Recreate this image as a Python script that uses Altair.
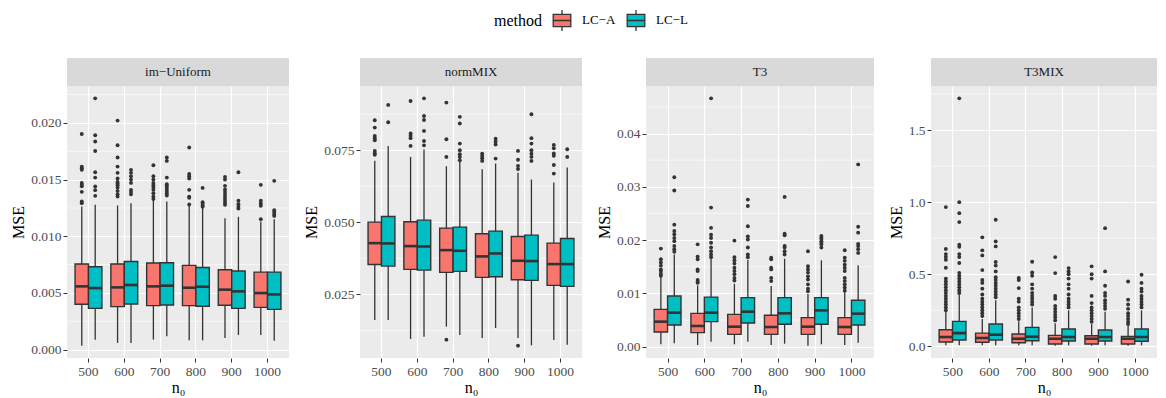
import altair as alt
import pandas as pd

N0 = ["500", "600", "700", "800", "900", "1000"]
METHODS = ["LC−A", "LC−L"]
COLORS = ["#F8766D", "#00BFC4"]
PANELS = ["im−Uniform", "normMIX", "T3", "T3MIX"]

# box order: 500A, 500L, 600A, 600L, ..., 1000A, 1000L
iu_lower = [0.00035, 0.00088, 0.00059, 0.00059, 0.00088, 0.00117, 0.00082, 0.00082, 0.00103, 0.00129, 0.00129, 0.00079]
iu_q1 = [0.0040, 0.00364, 0.00379, 0.00402, 0.00388, 0.00394, 0.00388, 0.00382, 0.00391, 0.00364, 0.00373, 0.00355]
iu_med = [0.00558, 0.00543, 0.00549, 0.0057, 0.00558, 0.00564, 0.00546, 0.00555, 0.00529, 0.00514, 0.00499, 0.00487]
iu_q3 = [0.00755, 0.00731, 0.00755, 0.00778, 0.00764, 0.00767, 0.00743, 0.00725, 0.00705, 0.00693, 0.00684, 0.00684]
iu_upper = [0.01263, 0.01278, 0.01272, 0.01292, 0.01322, 0.01307, 0.01278, 0.01248, 0.0116, 0.01172, 0.0113, 0.0115]
iu_out = [
    [0.01903, 0.01615, 0.01601, 0.01586, 0.01471, 0.01454, 0.01442, 0.01392, 0.01307, 0.01292],
    [0.02217, 0.01891, 0.01836, 0.01753, 0.01565, 0.01518, 0.01439, 0.01407, 0.01357],
    [0.02021, 0.01803, 0.01695, 0.01615, 0.0156, 0.0151, 0.0148, 0.01465, 0.0145, 0.0143, 0.014, 0.0137, 0.0135],
    [0.01586, 0.0156, 0.0153, 0.015, 0.01471, 0.0141, 0.0139, 0.0137],
    [0.01627, 0.0153, 0.015, 0.0147, 0.0145, 0.0143, 0.0141, 0.0138, 0.0135, 0.0133],
    [0.01695, 0.01665, 0.01518, 0.0146, 0.0144, 0.0142, 0.014, 0.0138, 0.0136],
    [0.01783, 0.0155, 0.0153, 0.0151, 0.0141, 0.0135, 0.0134, 0.0128],
    [0.01427, 0.013, 0.01285, 0.0127, 0.0126],
    [0.01524, 0.015, 0.01445, 0.01413, 0.0139, 0.01366, 0.01342, 0.0132, 0.01298, 0.01278],
    [0.01565, 0.01313, 0.01283, 0.0126, 0.01245],
    [0.01454, 0.01313, 0.0129, 0.01269, 0.01151],
    [0.01489, 0.0123, 0.0121, 0.0119, 0.0118],
]

nm_lower = [0.01611, 0.0161, 0.00952, 0.01033, 0.0138, 0.01091, 0.00987, 0.01334, 0.0099, 0.00733, 0.00918, 0.00756]
nm_q1 = [0.03539, 0.03482, 0.03366, 0.03343, 0.03262, 0.03297, 0.03089, 0.03112, 0.03008, 0.02985, 0.02812, 0.02777]
nm_med = [0.04278, 0.04267, 0.04175, 0.04163, 0.04036, 0.04013, 0.03817, 0.0392, 0.03666, 0.03655, 0.03551, 0.03551]
nm_q3 = [0.05006, 0.05203, 0.05018, 0.05076, 0.04798, 0.04833, 0.04602, 0.04695, 0.0451, 0.04556, 0.04279, 0.0444]
nm_upper = [0.07132, 0.0765, 0.0727, 0.07525, 0.06947, 0.07305, 0.06843, 0.0704, 0.06716, 0.06485, 0.06381, 0.069]
nm_out = [
    [0.08541, 0.08287, 0.07998, 0.0792, 0.07848, 0.0748, 0.074, 0.0734],
    [0.09073, 0.08471],
    [0.0921, 0.0808, 0.08, 0.0792, 0.0765],
    [0.093, 0.0869, 0.0855, 0.0817, 0.0782, 0.0767],
    [0.09154, 0.0788, 0.0727, 0.0093],
    [0.0866, 0.0843, 0.0773, 0.075, 0.0736, 0.0727, 0.0715],
    [0.07385, 0.073, 0.0722, 0.0713],
    [0.079, 0.078, 0.077, 0.0721],
    [0.07478, 0.0717, 0.0696, 0.0685, 0.00722],
    [0.08749, 0.0792, 0.0773, 0.075, 0.0738, 0.0727, 0.0713],
    [0.07686, 0.0757, 0.0739, 0.0731, 0.0699, 0.0669],
    [0.07536, 0.0727],
]

t3_lower = [0.00044, 0.00063, 0.0003, 0.00094, 0.00044, 0.00094, 0.0003, 0.00056, 0.00019, 0.00044, 0.0003, 0.00075]
t3_q1 = [0.00275, 0.00406, 0.00263, 0.00469, 0.00231, 0.00444, 0.00231, 0.00419, 0.00231, 0.00419, 0.00231, 0.00406]
t3_med = [0.00469, 0.00638, 0.00388, 0.00638, 0.00375, 0.00656, 0.00369, 0.00625, 0.00375, 0.00681, 0.00369, 0.00619]
t3_q3 = [0.0070, 0.0095, 0.00625, 0.0093, 0.00606, 0.0092, 0.00588, 0.0092, 0.00544, 0.0092, 0.00544, 0.0087]
t3_upper = [0.0131, 0.0173, 0.0115, 0.0165, 0.0118, 0.0163, 0.0114, 0.0165, 0.0099, 0.0162, 0.0102, 0.0153]
t3_out = [
    [0.0184, 0.0164, 0.0158, 0.0152, 0.0145, 0.0142, 0.0137, 0.0133],
    [0.0318, 0.0293, 0.0229, 0.0217, 0.0211, 0.0204, 0.0198, 0.0189, 0.0183, 0.0178],
    [0.0192, 0.0169, 0.0164, 0.0145, 0.0142, 0.0125, 0.0122, 0.012],
    [0.0466, 0.0261, 0.0223, 0.021, 0.0204, 0.0195, 0.0186, 0.0179, 0.0173, 0.0168],
    [0.0199, 0.0168, 0.0162, 0.0156, 0.0148, 0.0142, 0.0136, 0.0129, 0.0124],
    [0.0276, 0.0264, 0.0226, 0.0207, 0.0201, 0.0186, 0.0173, 0.0168],
    [0.0167, 0.0164, 0.0148, 0.0145, 0.0129, 0.0123],
    [0.0281, 0.0212, 0.0209, 0.0189, 0.0186, 0.0179, 0.0173],
    [0.0179, 0.0151, 0.0145, 0.0139, 0.0132, 0.0126, 0.0117, 0.0109, 0.0104],
    [0.0208, 0.0205, 0.0202, 0.0198, 0.0195, 0.0192, 0.0186],
    [0.0181, 0.0167, 0.0161, 0.0154, 0.0148, 0.0142, 0.0129, 0.0123, 0.0117, 0.0111, 0.0105],
    [0.0342, 0.0225, 0.0214, 0.0193, 0.0189, 0.0183, 0.0176],
]

tm_lower = [0.007, 0.007, 0.007, 0.007, 0.007, 0.007, 0.005, 0.007, 0.005, 0.007, 0.005, 0.007]
tm_q1 = [0.030, 0.044, 0.028, 0.044, 0.025, 0.039, 0.016, 0.037, 0.016, 0.037, 0.016, 0.035]
tm_med = [0.0647, 0.092, 0.058, 0.081, 0.053, 0.067, 0.053, 0.065, 0.053, 0.065, 0.053, 0.065]
tm_q3 = [0.1156, 0.173, 0.092, 0.155, 0.0855, 0.132, 0.076, 0.12, 0.074, 0.113, 0.069, 0.12]
tm_upper = [0.24, 0.36, 0.19, 0.32, 0.175, 0.27, 0.16, 0.25, 0.155, 0.24, 0.145, 0.25]
tm_out = [
    [0.966, 0.675, 0.64, 0.62, 0.60, 0.545, 0.47, 0.45, 0.43, 0.41, 0.39, 0.37, 0.35, 0.33, 0.31, 0.29, 0.27, 0.25],
    [1.72, 1.0, 0.924, 0.862, 0.705, 0.69, 0.64, 0.62, 0.578, 0.51, 0.49, 0.47, 0.45, 0.43, 0.41, 0.39, 0.37],
    [0.756, 0.666, 0.631, 0.529, 0.46, 0.44, 0.40, 0.36, 0.33, 0.31, 0.29, 0.27, 0.25, 0.23, 0.21],
    [0.878, 0.728, 0.693, 0.585, 0.56, 0.52, 0.48, 0.46, 0.44, 0.42, 0.40, 0.38, 0.36, 0.34],
    [0.474, 0.46, 0.404, 0.33, 0.31, 0.27, 0.25, 0.23, 0.21, 0.19],
    [0.587, 0.513, 0.49, 0.43, 0.40, 0.37, 0.35, 0.33, 0.31, 0.29],
    [0.619, 0.508, 0.35, 0.33, 0.28, 0.26, 0.24, 0.22, 0.20, 0.18],
    [0.543, 0.52, 0.50, 0.47, 0.43, 0.40, 0.36, 0.33, 0.31, 0.29, 0.27],
    [0.555, 0.50, 0.47, 0.35, 0.30, 0.27, 0.25, 0.23, 0.21, 0.19, 0.17],
    [0.82, 0.52, 0.42, 0.37, 0.35, 0.32, 0.30, 0.28, 0.26],
    [0.45, 0.324, 0.29, 0.26, 0.23, 0.21, 0.19, 0.17, 0.155],
    [0.497, 0.44, 0.40, 0.38, 0.35, 0.33, 0.31, 0.29, 0.27],
]

# y-axis breaks per panel
iu_ticks = [0.0, 0.005, 0.010, 0.015, 0.020]
iu_minor = [0.0025, 0.0075, 0.0125, 0.0175, 0.0225]
nm_ticks = [0.025, 0.050, 0.075]
nm_minor = [0.0125, 0.0375, 0.0625, 0.0875]
t3_ticks = [0.0, 0.01, 0.02, 0.03, 0.04]
t3_minor = [0.005, 0.015, 0.025, 0.035, 0.045]
tm_ticks = [0.0, 0.5, 1.0, 1.5]
tm_minor = [0.25, 0.75, 1.25, 1.75]

FONT = "Liberation Serif"
PLOT_H = 272
STRIP_H = 28
KEY_PATH = ("M-0.8,-0.55H0.8V0.55H-0.8Z"
            "M-0.8,0H0.8"
            "M0,-0.55V-0.95M0,0.55V0.95")


def panel(title, lower, q1, med, q3, upper, outl, ticks, minor, fmt, width, show_legend):
    boxes = pd.DataFrame({
        "n0": [n for n in N0 for _ in METHODS],
        "method": [m for _ in N0 for m in METHODS],
        "lower": lower, "q1": q1, "med": med, "q3": q3, "upper": upper,
    })
    out_rows = []
    for i, vals in enumerate(outl):
        for v in vals:
            out_rows.append({"n0": N0[i // 2], "method": METHODS[i % 2], "value": v})
    outs = pd.DataFrame(out_rows)
    allv = list(lower) + list(upper) + [r["value"] for r in out_rows]
    lo, hi = min(allv), max(allv)
    rng = hi - lo
    dom = [lo - 0.05 * rng, hi + 0.05 * rng]
    ysc = alt.Scale(domain=dom, nice=False, zero=False)
    yax = alt.Axis(values=ticks, format=fmt, title="MSE")
    xsc = alt.Scale(domain=N0, paddingInner=0, paddingOuter=0.1)
    xax = alt.Axis(title="n₀", labelAngle=0, bandPosition=0.5)
    x = alt.X("n0:N", scale=xsc, axis=xax)
    xo = alt.XOffset("method:N", scale=alt.Scale(domain=METHODS, paddingInner=0, paddingOuter=1 / 3))
    bw = width / 6.2 * 0.375

    minor_df = pd.DataFrame({"v": minor})
    minor_layer = alt.Chart(minor_df).mark_rule(color="white", strokeWidth=0.6).encode(
        y=alt.Y("v:Q", scale=ysc, axis=yax))
    whisk = alt.Chart(boxes).mark_rule(color="#333333", strokeWidth=1.3).encode(
        x=x, xOffset=xo, y=alt.Y("lower:Q", scale=ysc, axis=yax), y2="upper:Q")
    leg = None
    if show_legend:
        leg = alt.Legend(
            orient="none", legendX=427, legendY=-78, direction="horizontal",
            title="method", titleOrient="left", titleFontSize=16, titleFontWeight="normal",
            titleColor="#000000", titleFont=FONT, titlePadding=8,
            labelFontSize=13, labelColor="#000000", labelFont=FONT, labelOffset=8,
            symbolType=KEY_PATH, symbolSize=484, symbolStrokeColor="#333333",
            symbolStrokeWidth=1.3, symbolOpacity=1, columnPadding=8)
    color = alt.Color("method:N", scale=alt.Scale(domain=METHODS, range=COLORS),
                      legend=leg if show_legend else None)
    bars = alt.Chart(boxes).mark_bar(stroke="#333333", strokeWidth=1.4, opacity=1).encode(
        x=x, xOffset=xo, y=alt.Y("q1:Q", scale=ysc, axis=yax), y2="q3:Q", color=color)
    meds = alt.Chart(boxes).mark_tick(color="#333333", thickness=2.6, size=bw, opacity=1).encode(
        x=x, xOffset=xo, y=alt.Y("med:Q", scale=ysc, axis=yax))
    pts = alt.Chart(outs).mark_circle(color="#333333", size=15, opacity=1).encode(
        x=x, xOffset=xo, y=alt.Y("value:Q", scale=ysc, axis=yax))
    strip_df = pd.DataFrame({"label": [title]})
    strip = alt.Chart(strip_df).mark_rect(color="#D9D9D9").encode(
        x=alt.value(0), x2=alt.value(width), y=alt.value(-STRIP_H), y2=alt.value(0))
    strip_txt = alt.Chart(strip_df).mark_text(
        font=FONT, fontSize=13, color="#1A1A1A", align="center", baseline="middle").encode(
        x=alt.value(width / 2), y=alt.value(-STRIP_H / 2), text="label:N")
    return alt.layer(minor_layer, whisk, bars, meds, pts, strip, strip_txt).properties(
        width=width, height=PLOT_H)


p1 = panel(PANELS[0], iu_lower, iu_q1, iu_med, iu_q3, iu_upper, iu_out, iu_ticks, iu_minor, ".3f", 222, True)
p2 = panel(PANELS[1], nm_lower, nm_q1, nm_med, nm_q3, nm_upper, nm_out, nm_ticks, nm_minor, ".3f", 222, False)
p3 = panel(PANELS[2], t3_lower, t3_q1, t3_med, t3_q3, t3_upper, t3_out, t3_ticks, t3_minor, ".2f", 228, False)
p4 = panel(PANELS[3], tm_lower, tm_q1, tm_med, tm_q3, tm_upper, tm_out, tm_ticks, tm_minor, ".1f", 226, False)

chart = alt.hconcat(p1, p2, p3, p4, spacing=13).resolve_scale(
    y="independent", x="independent"
).properties(
    padding={"left": 2, "top": 0, "right": 0, "bottom": 0}
).configure(font=FONT).configure_view(
    fill="#EBEBEB", strokeWidth=0
).configure_axis(
    labelFont=FONT, labelFontSize=13.5, labelColor="#4D4D4D",
    titleFont=FONT, titleFontSize=16, titleColor="#000000", titleFontWeight="normal",
    tickColor="#333333", tickSize=4, tickWidth=1, labelPadding=2, domain=False,
    grid=True, gridColor="#FFFFFF", gridWidth=1.2,
).configure_axisY(titlePadding=4).configure_axisX(titlePadding=2)

chart.save("out.html", embed_options={"renderer": "svg", "actions": False})
